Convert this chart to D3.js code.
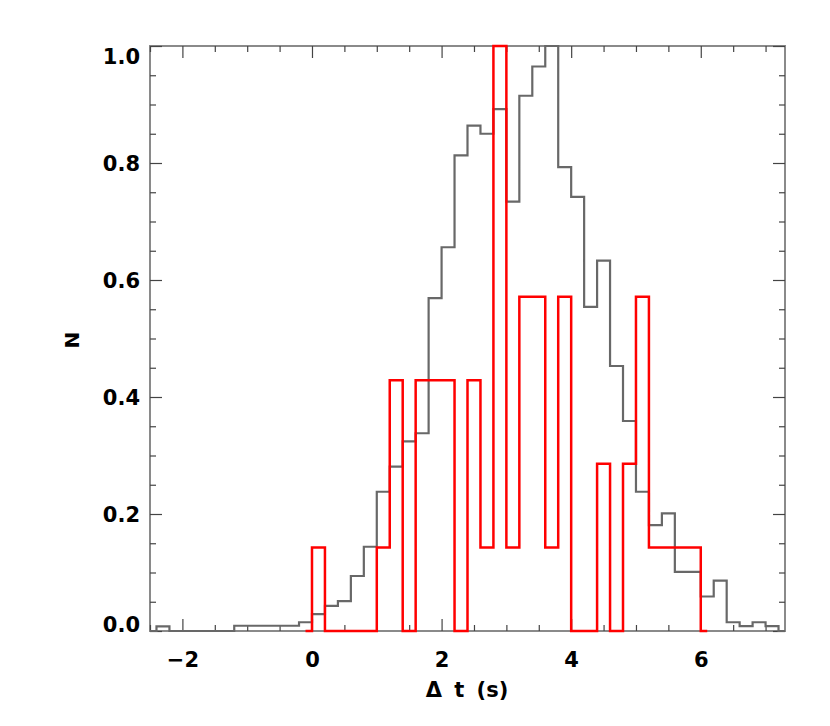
<!DOCTYPE html>
<html>
<head>
<meta charset="utf-8">
<script src="https://cdn.jsdelivr.net/npm/d3@7"></script>
<style>
  html, body { margin: 0; padding: 0; background: #ffffff; }
  svg { display: block; }
  text { font-family: "DejaVu Sans", sans-serif; font-weight: bold; fill: #000; }
</style>
</head>
<body>
<svg id="chart" width="830" height="726"></svg>
<script>
// ---- data ----
const binWidth = 0.2;
// gray histogram: bin start values and normalized counts
const grayBinStarts = [-2.6,-2.4,-2.2,-2.0,-1.8,-1.6,-1.4,-1.2,-1.0,-0.8,-0.6,-0.4,-0.2,
  0.0,0.2,0.4,0.6,0.8,1.0,1.2,1.4,1.6,1.8,2.0,2.2,2.4,2.6,2.8,3.0,3.2,3.4,3.6,3.8,
  4.0,4.2,4.4,4.6,4.8,5.0,5.2,5.4,5.6,5.8,6.0,6.2,6.4,6.6,6.8,7.0,7.2];
const grayValues = [0,0.008,0,0,0,0,0,0.009,0.009,0.009,0.009,0.009,0.015,
  0.029,0.043,0.051,0.094,0.144,0.238,0.281,0.324,0.338,0.569,0.656,0.813,0.864,0.850,0.892,0.734,0.915,0.965,1.0,0.793,
  0.742,0.554,0.633,0.453,0.359,0.238,0.181,0.201,0.101,0.101,0.059,0.086,0.015,0.0085,0.015,0.0085,0];
// red histogram (multiples of 1/7)
const redBinStarts = [-0.2,0.0,0.2,0.4,0.6,0.8,1.0,1.2,1.4,1.6,1.8,2.0,2.2,2.4,2.6,2.8,3.0,3.2,3.4,3.6,3.8,
  4.0,4.2,4.4,4.6,4.8,5.0,5.2,5.4,5.6,5.8,6.0];
const redSevenths = [0,1,0,0,0,0,1,3,0,3,3,3,0,3,1,7,1,4,4,1,4,
  0,0,2,0,2,4,1,1,1,1,0];
const redValues = redSevenths.map(c => c / 7);

const xMajorTicks = [-2, 0, 2, 4, 6];
const xMinorTicks = [-2.5,-1.5,-1,-0.5,0.5,1,1.5,2.5,3,3.5,4.5,5,5.5,6.5,7];
const yMajorTicks = [0, 0.2, 0.4, 0.6, 0.8, 1.0];
const yMinorTicks = [0.05,0.1,0.15,0.25,0.3,0.35,0.45,0.5,0.55,0.65,0.7,0.75,0.85,0.9,0.95];
const xLabel = "Δ t (s)";
const yLabel = "N";

// ---- layout ----
const L = 150, R = 785, T = 46, B = 631;
const svg = d3.select("#chart");
const x = d3.scaleLinear().domain([-2.5, 7.3]).range([L, R]);
const y = d3.scaleLinear().domain([0, 1]).range([B, T]);

svg.append("defs").append("clipPath").attr("id", "plotclip")
  .append("rect").attr("x", L).attr("y", T - 2).attr("width", R - L).attr("height", B - T + 4);

// frame
svg.append("rect").attr("x", L).attr("y", T).attr("width", R - L).attr("height", B - T)
  .attr("fill", "none").attr("stroke", "#8a8a8a").attr("stroke-width", 2);

function styleAxis(g) {
  g.select(".domain").remove();
  g.selectAll(".tick line").attr("stroke", "#444").attr("stroke-width", 1.2);
}

// bottom axis
const gx = svg.append("g").attr("transform", `translate(0,${B})`)
  .call(d3.axisBottom(x).tickValues(xMajorTicks).tickSize(-12).tickPadding(21)
    .tickFormat(d3.format("d")));
styleAxis(gx);
gx.selectAll("text").attr("font-size", 21).attr("font-family", "DejaVu Sans").attr("font-weight", "bold").attr("fill", "#000");
svg.append("g").attr("transform", `translate(0,${B})`)
  .call(d3.axisBottom(x).tickValues(xMinorTicks).tickSize(-6).tickFormat("")).call(styleAxis);
// top axis
svg.append("g").attr("transform", `translate(0,${T})`)
  .call(d3.axisTop(x).tickValues(xMajorTicks).tickSize(-12).tickFormat("")).call(styleAxis);
svg.append("g").attr("transform", `translate(0,${T})`)
  .call(d3.axisTop(x).tickValues(xMinorTicks).tickSize(-6).tickFormat("")).call(styleAxis);

// left axis
const gy = svg.append("g").attr("transform", `translate(${L},0)`)
  .call(d3.axisLeft(y).tickValues(yMajorTicks).tickSize(-12).tickPadding(10)
    .tickFormat(d3.format(".1f")));
styleAxis(gy);
gy.selectAll("text").attr("font-size", 21).attr("font-family", "DejaVu Sans").attr("font-weight", "bold").attr("fill", "#000")
  .attr("dy", d => d === 1 ? "0.82em" : (d === 0 ? "0em" : "0.38em"));
svg.append("g").attr("transform", `translate(${L},0)`)
  .call(d3.axisLeft(y).tickValues(yMinorTicks).tickSize(-6).tickFormat("")).call(styleAxis);
// right axis
svg.append("g").attr("transform", `translate(${R},0)`)
  .call(d3.axisRight(y).tickValues(yMajorTicks).tickSize(-12).tickFormat("")).call(styleAxis);
svg.append("g").attr("transform", `translate(${R},0)`)
  .call(d3.axisRight(y).tickValues(yMinorTicks).tickSize(-6).tickFormat("")).call(styleAxis);

// histograms (psym=10 style: steps between bin centers)
const stepLine = d3.line().x(d => x(d[0])).y(d => y(d[1])).curve(d3.curveStep);
const grayPts = grayBinStarts.map((s, i) => [s + binWidth / 2, grayValues[i]]);
const redPts = redBinStarts.map((s, i) => [s + binWidth / 2, redValues[i]]);

const plot = svg.append("g").attr("clip-path", "url(#plotclip)");
plot.append("path").attr("d", stepLine(grayPts))
  .attr("fill", "none").attr("stroke", "#686868").attr("stroke-width", 2.2);
plot.append("path").attr("d", stepLine(redPts))
  .attr("fill", "none").attr("stroke", "#ff0000").attr("stroke-width", 2.5);

// axis titles
svg.append("text").attr("x", (L + R) / 2 - 0.5).attr("y", 697)
  .attr("text-anchor", "middle").attr("font-size", 21).style("word-spacing", "5px")
  .text(xLabel);
svg.append("text").attr("transform", "translate(79,340) rotate(-90)")
  .attr("text-anchor", "middle").attr("font-size", 20)
  .text(yLabel);
</script>
</body>
</html>
